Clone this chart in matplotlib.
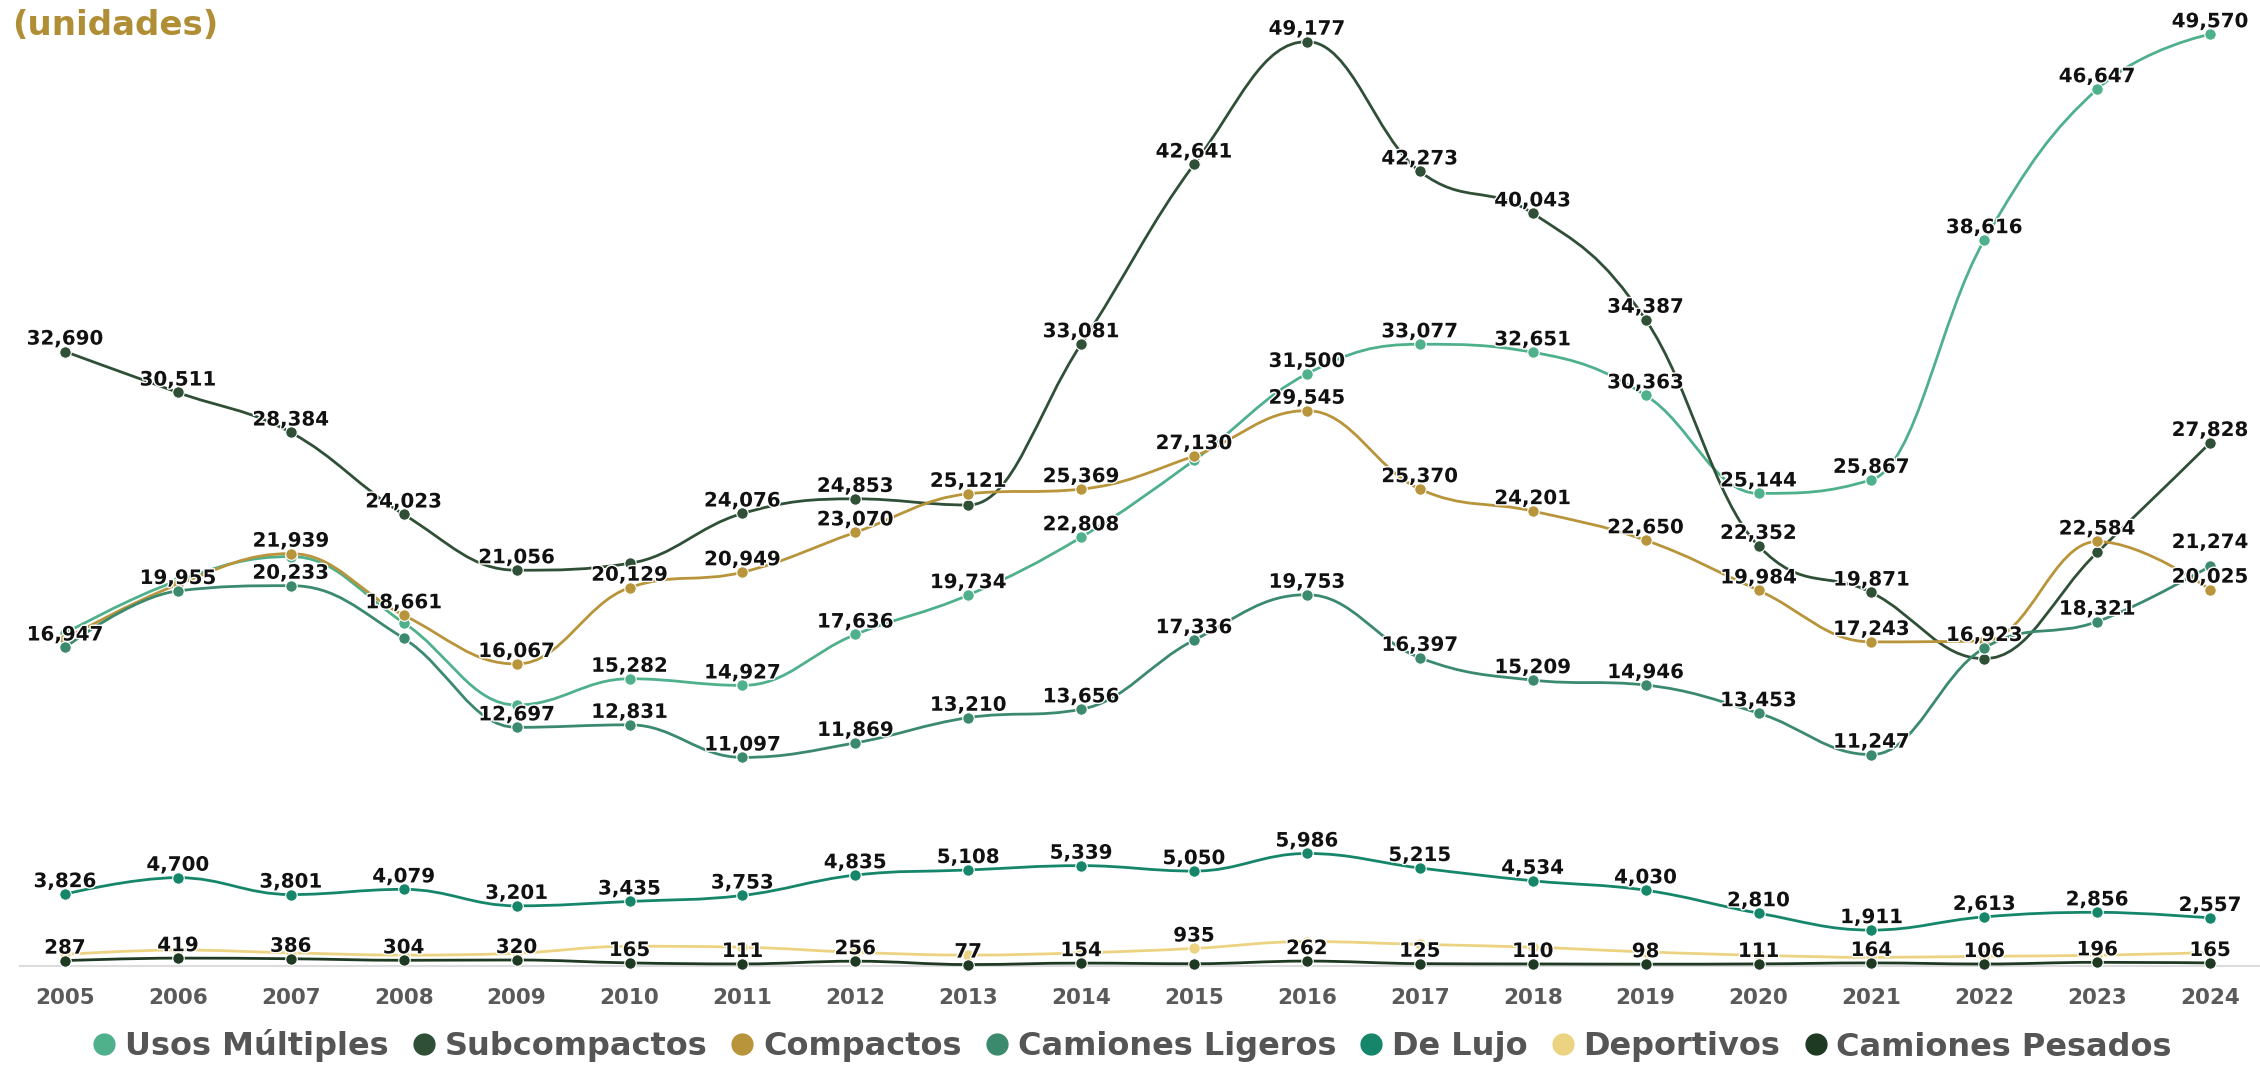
import matplotlib
matplotlib.use("Agg")
import matplotlib.pyplot as plt
import matplotlib.patheffects as pe
from matplotlib.path import Path
from matplotlib.patches import PathPatch
from matplotlib.lines import Line2D

# Datos (unidades por año)
years = list(range(2005, 2025))

usos_multiples = [17700, 20500, 21780, 18260, 13885, 15282, 14927, 17636, 19734, 22808,
                  26900, 31500, 33077, 32651, 30363, 25144, 25867, 38616, 46647, 49570]
subcompactos = [32690, 30511, 28384, 24023, 21056, 21420, 24076, 24853, 24525, 33081,
                42641, 49177, 42273, 40043, 34387, 22352, 19871, 16350, 22000, 27828]
compactos = [17400, 20300, 21939, 18661, 16067, 20129, 20949, 23070, 25121, 25369,
             27130, 29545, 25370, 24201, 22650, 19984, 17243, 17300, 22584, 20025]
camiones_ligeros = [16947, 19955, 20233, 17430, 12697, 12831, 11097, 11869, 13210, 13656,
                    17336, 19753, 16397, 15209, 14946, 13453, 11247, 16923, 18321, 21274]
de_lujo = [3826, 4700, 3801, 4079, 3201, 3435, 3753, 4835, 5108, 5339,
           5050, 5986, 5215, 4534, 4030, 2810, 1911, 2613, 2856, 2557]
deportivos = [620, 850, 700, 580, 680, 1050, 1000, 730, 580, 700,
              935, 1300, 1150, 1000, 750, 570, 460, 520, 570, 720]
camiones_pesados = [287, 419, 386, 304, 320, 165, 111, 256, 77, 154,
                    120, 262, 125, 110, 98, 111, 164, 106, 196, 165]

names = ["Usos Múltiples", "Subcompactos", "Compactos", "Camiones Ligeros",
         "De Lujo", "Deportivos", "Camiones Pesados"]
values = [usos_multiples, subcompactos, compactos, camiones_ligeros,
          de_lujo, deportivos, camiones_pesados]
colors = ["#4fb08c", "#2f4f36", "#b8943a", "#3b8a6e", "#16866a", "#ecd382", "#1f3a23"]

# etiquetas que no se muestran (se traslapan en el original)
hidden = {
    "Usos Múltiples": [2005, 2006, 2007, 2008, 2009, 2015],
    "Subcompactos": [2010, 2013, 2022, 2023],
    "Compactos": [2005, 2006, 2022],
    "Camiones Ligeros": [2008],
    "De Lujo": [],
    "Deportivos": [y for y in years if y != 2015],
    "Camiones Pesados": [2015],
}
extra_offset = {("Camiones Ligeros", 2024): 8}


def spline_path(x, y, smoothing=1.5):
    # curva tipo "spline" (puntos de control como Highcharts)
    n = len(x)
    left = [(x[i], y[i]) for i in range(n)]
    right = [(x[i], y[i]) for i in range(n)]
    denom = smoothing + 1
    for i in range(1, n - 1):
        lx = (smoothing * x[i] + x[i - 1]) / denom
        ly = (smoothing * y[i] + y[i - 1]) / denom
        rx = (smoothing * x[i] + x[i + 1]) / denom
        ry = (smoothing * y[i] + y[i + 1]) / denom
        corr = 0
        if rx != lx:
            corr = (ry - ly) * (rx - x[i]) / (rx - lx) + y[i] - ry
        ly += corr
        ry += corr
        if ly > y[i - 1] and ly > y[i]:
            ly = max(y[i - 1], y[i]); ry = 2 * y[i] - ly
        elif ly < y[i - 1] and ly < y[i]:
            ly = min(y[i - 1], y[i]); ry = 2 * y[i] - ly
        if ry > y[i + 1] and ry > y[i]:
            ry = max(y[i + 1], y[i]); ly = 2 * y[i] - ry
        elif ry < y[i + 1] and ry < y[i]:
            ry = min(y[i + 1], y[i]); ly = 2 * y[i] - ry
        left[i] = (lx, ly)
        right[i] = (rx, ry)
    verts = [(x[0], y[0])]
    codes = [Path.MOVETO]
    for i in range(1, n):
        verts += [right[i - 1], left[i], (x[i], y[i])]
        codes += [Path.CURVE4] * 3
    return Path(verts, codes)


fig = plt.figure(figsize=(22.6, 10.71), dpi=100)
ax = fig.add_axes([0, 105 / 1071, 1, 966 / 1071])
ax.set_xlim(2004.424, 2024.442)
ax.set_ylim(0, 966 * 53.2)

for i, (name, vals, c) in enumerate(zip(names, values, colors)):
    path = spline_path(years, vals)
    ax.add_patch(PathPatch(path, facecolor="none", edgecolor=c, lw=2.0,
                           zorder=2 + i, clip_on=False))
    ax.plot(years, vals, "o", color=c, ms=8.3, mec="white", mew=0.8,
            zorder=2 + i, clip_on=False)
    for yr, v in zip(years, vals):
        if yr in hidden[name]:
            continue
        off = 5 + extra_offset.get((name, yr), 0)
        ax.annotate(f"{v:,}", (yr, v), xytext=(0, off), textcoords="offset points",
                    ha="center", va="baseline", fontsize=14.3, fontweight="bold",
                    color="#111111", zorder=30,
                    path_effects=[pe.withStroke(linewidth=2, foreground="white")])

# eje x
for s in ["top", "right", "left"]:
    ax.spines[s].set_visible(False)
ax.spines["bottom"].set_color("#dcdcdc")
ax.spines["bottom"].set_linewidth(1.5)
ax.spines["bottom"].set_bounds(2004.6, 2024.442)
ax.set_yticks([])
ax.set_xticks(years)
ax.set_xticklabels([str(y) for y in years], fontsize=15.5, fontweight="bold", color="#5a5a5a")
ax.tick_params(axis="x", length=0, pad=16)
ax.patch.set_alpha(0)

# título
fig.text(12 / 2260, 1 - 9 / 1071, "(unidades)", ha="left", va="top",
         fontsize=24.5, fontweight="bold", color="#b08e36")

# leyenda
handles = [Line2D([], [], ls="none", marker="o", ms=15, color=c, mec=c) for c in colors]
fig.legend(handles, names, loc="center", bbox_to_anchor=(0.5, 1 - 1046 / 1071), ncol=7,
           frameon=False, handletextpad=0.15, columnspacing=0.6, handlelength=1.0,
           prop={"size": 23, "weight": "bold"}, labelcolor="#555555")

fig.savefig("out.png", dpi=100)
